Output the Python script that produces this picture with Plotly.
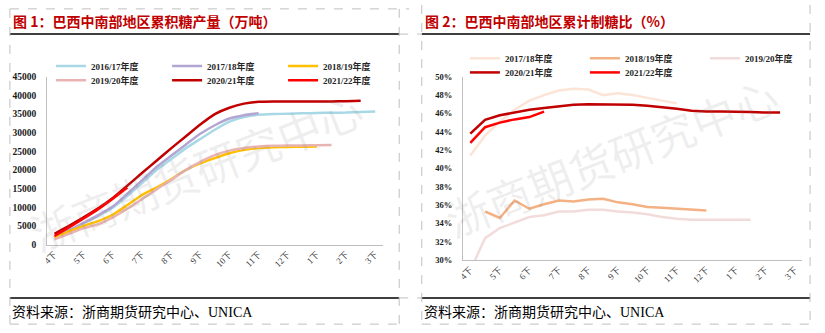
import plotly.graph_objects as go

# ---------------- data ----------------
periods = ["4下", "5上", "5下", "6上", "6下", "7上", "7下", "8上", "8下", "9上", "9下", "10上",
           "10下", "11上", "11下", "12上", "12下", "1上", "1下", "2上", "2下", "3上", "3下"]
tick_periods = ["4下", "5下", "6下", "7下", "8下", "9下", "10下", "11下", "12下", "1下", "2下", "3下"]

# 图1 累积糖产量（万吨）
names_prod = ["2016/17年度", "2017/18年度", "2018/19年度", "2019/20年度", "2020/21年度", "2021/22年度"]
prod_1617 = [2000, 3700, 5700, 7700, 9900, 13000, 16500, 20000, 22900, 25800, 28300, 30800,
             33000, 34200, 34800, 35000, 35100, 35200, 35300, 35350, 35400, 35550, 35700]
prod_1718 = [2000, 3800, 5800, 7900, 10200, 13600, 17200, 20800, 23800, 26800, 29700, 32000,
             33800, 34700, 35200]
prod_1819 = [1900, 3500, 5000, 6300, 8000, 10600, 13300, 15300, 17500, 20000, 21800, 23200,
             24500, 25400, 25900, 26100, 26200, 26250, 26270]
prod_1920 = [1400, 2900, 4400, 5500, 7300, 9600, 12200, 14800, 17300, 20000, 22200, 24000,
             25200, 25900, 26300, 26500, 26550, 26600, 26650, 26700]
prod_2021 = [2900, 5000, 7300, 9700, 12500, 15800, 19200, 22500, 25800, 29000, 32200, 35000,
             36700, 37800, 38300, 38400, 38400, 38400, 38400, 38400, 38450, 38600]
prod_2122 = [2300, 4600, 7000, 9500, 12300, 15300]

# 图2 累计制糖比（%）
names_ratio = ["2017/18年度", "2018/19年度", "2019/20年度", "2020/21年度", "2021/22年度"]
ratio_1718 = [41.4, 43.6, 45.1, 46.4, 47.4, 48.0, 48.5, 48.7, 48.6, 48.0, 48.2, 48.0, 47.7, 47.4, 47.1]
ratio_1819 = [None, 35.3, 34.6, 36.5, 35.6, 36.1, 36.5, 36.4, 36.6, 36.7, 36.3, 36.1, 35.8, 35.7,
              35.6, 35.55, 35.4]
ratio_1920 = [28.9, 32.4, 33.5, 34.1, 34.7, 34.9, 35.3, 35.3, 35.5, 35.5, 35.3, 35.2, 35.0, 34.7,
              34.5, 34.4, 34.4, 34.4, 34.4, 34.4]
ratio_2021 = [43.8, 45.3, 45.8, 46.1, 46.4, 46.6, 46.8, 46.95, 47.0, 47.0, 47.0, 46.95, 46.85,
              46.7, 46.5, 46.3, 46.2, 46.2, 46.2, 46.15, 46.1, 46.1]
ratio_2122 = [42.8, 44.5, 45.0, 45.35, 45.6, 46.2]

prod_series = [prod_1617, prod_1718, prod_1819, prod_1920, prod_2021, prod_2122]
ratio_series = [ratio_1718, ratio_1819, ratio_1920, ratio_2021, ratio_2122]
prod_colors = ["#a8d8e6", "#b3a6d3", "#ffc000", "#e8b4b3", "#c00000", "#ff0000"]
ratio_colors = ["#fce4d6", "#f4b183", "#f2dcdb", "#c00000", "#ff0000"]

W, H = 825, 333


def px(x):
    return x / W


def py(y):
    return 1 - y / H


fig = go.Figure()

for i, (nm, vals, col) in enumerate(zip(names_prod, prod_series, prod_colors)):
    fig.add_trace(go.Scatter(
        x=periods[:len(vals)], y=vals, name=nm, mode="lines",
        line=dict(color=col, width=2.5, shape="spline", smoothing=0.4),
        xaxis="x", yaxis="y", legend="legend" if i < 3 else "legend2",
        cliponaxis=True, showlegend=True))

for i, (nm, vals, col) in enumerate(zip(names_ratio, ratio_series, ratio_colors)):
    fig.add_trace(go.Scatter(
        x=periods[:len(vals)], y=vals, name=nm, mode="lines",
        line=dict(color=col, width=2.5),
        xaxis="x2", yaxis="y2", legend="legend3" if i < 3 else "legend4",
        cliponaxis=True, showlegend=True))

tick_font_x = dict(family="Liberation Serif, Noto Sans CJK SC", size=9, color="#404040")
tick_font_y = dict(family="Liberation Serif, Noto Sans CJK SC", size=9.5, color="#1a1a1a", weight="bold")
axis_common = dict(showgrid=False, zeroline=False, showline=True, linecolor="#bfbfbf", linewidth=1,
                   ticks="")

xcommon = dict(type="category", categoryorder="array", categoryarray=periods,
               range=[-0.5, len(periods) - 0.5], tickmode="array", tickvals=tick_periods,
               ticktext=tick_periods, tickangle=-45, tickfont=tick_font_x, **axis_common)

legend_font = dict(family="Liberation Serif, Noto Sans CJK SC", size=9, color="#262626", weight="bold")


def mk_legend(xp, yp, ew):
    return dict(x=px(xp), y=py(yp), xanchor="left", yanchor="middle", orientation="h",
                entrywidth=ew, entrywidthmode="pixels", bgcolor="rgba(0,0,0,0)",
                font=legend_font, itemwidth=30, tracegroupgap=0)


shapes = []
solid = dict(color="#000000", width=1.5)
dash = dict(color="#bfbfbf", width=1, dash="dash")
# black rules
for (x0, x1) in [(5, 402), (425, 821)]:
    for yy in (30, 302):
        shapes.append(dict(type="line", xref="paper", yref="paper", x0=px(x0), x1=px(x1),
                           y0=py(yy), y1=py(yy), line=solid))
# dashed cell borders
dashed_segments = [
    (5, 4, 5, 329), (402, 4, 402, 329), (5, 4, 412, 4), (5, 329, 402, 329),
    (425, 0, 425, 329), (821, 0, 821, 329), (425, 329, 821, 329),
    (402, 30, 425, 30), (402, 302, 425, 302),
]
for (x0, y0, x1, y1) in dashed_segments:
    shapes.append(dict(type="line", xref="paper", yref="paper", x0=px(x0), x1=px(x1),
                       y0=py(y0), y1=py(y1), line=dash))

title_font = dict(family="Noto Sans CJK SC", size=14, color="#c00000", weight="bold")
foot_font = dict(family="Liberation Serif, Noto Sans CJK SC", size=14, color="#000000")
wm_font = dict(family="Noto Sans CJK SC", size=44, color="rgba(120,120,120,0.13)")

annotations = [
    dict(text="图 1：巴西中南部地区累积糖产量（万吨）", x=px(6), y=py(16), xref="paper", yref="paper",
         xanchor="left", yanchor="middle", showarrow=False, font=title_font),
    dict(text="图 2：巴西中南部地区累计制糖比（%）", x=px(426), y=py(16), xref="paper", yref="paper",
         xanchor="left", yanchor="middle", showarrow=False, font=title_font),
    dict(text="资料来源：浙商期货研究中心、UNICA", x=px(5), y=py(316), xref="paper", yref="paper",
         xanchor="left", yanchor="middle", showarrow=False, font=foot_font),
    dict(text="资料来源：浙商期货研究中心、UNICA", x=px(425), y=py(316), xref="paper", yref="paper",
         xanchor="left", yanchor="middle", showarrow=False, font=foot_font),
    dict(text="浙商期货研究中心", x=px(195), y=py(170), xref="paper", yref="paper", textangle=-21.5,
         xanchor="center", yanchor="middle", showarrow=False, font=wm_font),
    dict(text="浙商期货研究中心", x=px(618), y=py(156), xref="paper", yref="paper", textangle=-21.5,
         xanchor="center", yanchor="middle", showarrow=False, font=wm_font),
]

fig.update_layout(
    width=W, height=H, margin=dict(l=0, r=0, t=0, b=0),
    paper_bgcolor="white", plot_bgcolor="white", showlegend=True,
    xaxis=dict(domain=[px(43), px(385)], anchor="y", **xcommon),
    yaxis=dict(domain=[py(247), py(74)], anchor="x", range=[0, 45000], dtick=5000, tickformat="d",
               tickfont=tick_font_y, ticklabelstandoff=8, **axis_common),
    xaxis2=dict(domain=[px(467), px(813)], anchor="y2", **xcommon),
    yaxis2=dict(domain=[py(263), py(74)], anchor="x2", range=[30, 50], dtick=2, tickformat=".0f",
                ticksuffix="%", tickfont=dict(tick_font_y, size=8.5), ticklabelstandoff=8,
                **axis_common),
    legend=mk_legend(47, 63, 71),
    legend2=mk_legend(47, 77.5, 71),
    legend3=mk_legend(469, 55, 75),
    legend4=mk_legend(469, 69.5, 75),
    shapes=shapes, annotations=annotations,
)

fig.write_html("out.html")
